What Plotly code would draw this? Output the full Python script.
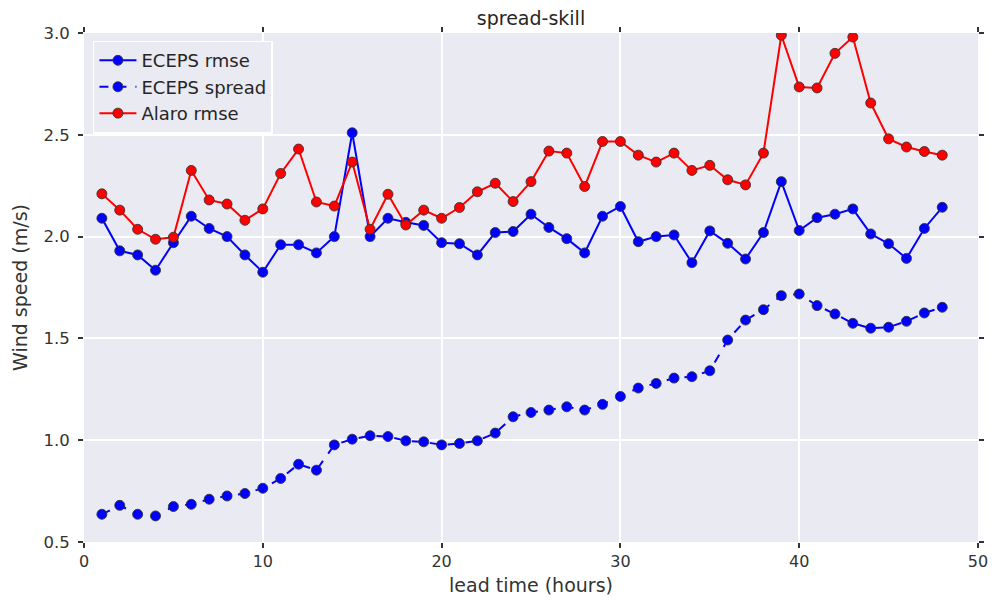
import plotly.graph_objects as go

hours = list(range(1, 49))

eceps_rmse = [2.09, 1.93, 1.91, 1.835, 1.97, 2.10, 2.04, 2.00, 1.91, 1.825,
              1.96, 1.96, 1.92, 2.00, 2.51, 2.00, 2.09, 2.07, 2.055, 1.97,
              1.965, 1.91, 2.02, 2.025, 2.11, 2.045, 1.99, 1.92, 2.10, 2.148,
              1.975, 2.00, 2.008, 1.872, 2.028, 1.967, 1.89, 2.02, 2.27, 2.03,
              2.093, 2.11, 2.136, 2.013, 1.965, 1.893, 2.04, 2.144]

eceps_spread = [0.636, 0.68, 0.636, 0.628, 0.674, 0.685, 0.71, 0.726, 0.738, 0.764,
                0.812, 0.882, 0.853, 0.977, 1.005, 1.022, 1.018, 0.997, 0.992, 0.977,
                0.984, 0.997, 1.035, 1.115, 1.136, 1.148, 1.164, 1.148, 1.176, 1.215,
                1.256, 1.279, 1.305, 1.312, 1.341, 1.492, 1.59, 1.641, 1.71, 1.718,
                1.661, 1.62, 1.574, 1.55, 1.555, 1.584, 1.625, 1.653]

alaro_rmse = [2.21, 2.13, 2.036, 1.987, 1.997, 2.325, 2.18, 2.16, 2.08, 2.136,
              2.31, 2.43, 2.17, 2.15, 2.366, 2.036, 2.208, 2.057, 2.13, 2.09,
              2.143, 2.22, 2.262, 2.172, 2.27, 2.42, 2.41, 2.246, 2.467, 2.467,
              2.40, 2.366, 2.41, 2.325, 2.35, 2.279, 2.254, 2.41, 2.989, 2.735,
              2.73, 2.90, 2.98, 2.656, 2.48, 2.44, 2.418, 2.40]

x_ticks = [0, 10, 20, 30, 40, 50]
y_ticks = [0.5, 1.0, 1.5, 2.0, 2.5, 3.0]
y_tick_labels = ["0.5", "1.0", "1.5", "2.0", "2.5", "3.0"]

marker_line = dict(color="rgba(50,50,50,0.85)", width=1)

fig = go.Figure()
fig.add_trace(go.Scatter(x=hours, y=eceps_rmse, name="ECEPS rmse", mode="lines+markers",
                         line=dict(color="#0000FF", width=2),
                         marker=dict(color="#0000FF", size=10, line=marker_line)))
fig.add_trace(go.Scatter(x=hours, y=eceps_spread, name="ECEPS spread", mode="lines+markers",
                         line=dict(color="#0000FF", width=2, dash="dash"),
                         marker=dict(color="#0000FF", size=10, line=marker_line)))
fig.add_trace(go.Scatter(x=hours, y=alaro_rmse, name="Alaro rmse", mode="lines+markers",
                         line=dict(color="#FF0000", width=2),
                         marker=dict(color="#FF0000", size=10, line=marker_line)))

fig.update_layout(
    width=992, height=605,
    margin=dict(l=84, r=14, t=33, b=63, autoexpand=False),
    paper_bgcolor="white",
    plot_bgcolor="#EAEAF2",
    font=dict(family="DejaVu Sans", size=16, color="#333333"),
    title=dict(text="spread-skill", x=0.5, xref="paper", xanchor="center",
               y=1 - 18 / 605, yref="container", yanchor="middle",
               font=dict(family="DejaVu Sans", size=19, color="#262626")),
    showlegend=True,
    legend=dict(x=0.01, y=0.985, xanchor="left", yanchor="top",
                bgcolor="#EAEAF2", bordercolor="#FFFFFF", borderwidth=1.5,
                font=dict(family="DejaVu Sans", size=18, color="#262626"),
                tracegroupgap=0, itemwidth=37),
)

fig.update_xaxes(range=[0, 50], tickvals=x_ticks, ticktext=[str(v) for v in x_ticks],
                 showgrid=True, gridcolor="white", gridwidth=1.5, zeroline=False,
                 ticks="outside", ticklen=5, tickwidth=1.5, tickcolor="#333333",
                 mirror="ticks", showline=False, automargin=False,
                 tickfont=dict(family="DejaVu Sans", size=16, color="#333333"),
                 title=dict(text="lead time (hours)", standoff=8,
                            font=dict(family="DejaVu Sans", size=19, color="#333333")))
fig.update_yaxes(range=[0.5, 3.0], tickvals=y_ticks, ticktext=y_tick_labels,
                 showgrid=True, gridcolor="white", gridwidth=1.5, zeroline=False,
                 ticks="outside", ticklen=5, tickwidth=1.5, tickcolor="#333333",
                 mirror="ticks", showline=False, automargin=False,
                 ticklabelstandoff=5,
                 tickfont=dict(family="DejaVu Sans", size=16.5, color="#333333"),
                 title=dict(text="Wind speed (m/s)", standoff=10,
                            font=dict(family="DejaVu Sans", size=19, color="#333333")))

fig.write_html("out.html")
